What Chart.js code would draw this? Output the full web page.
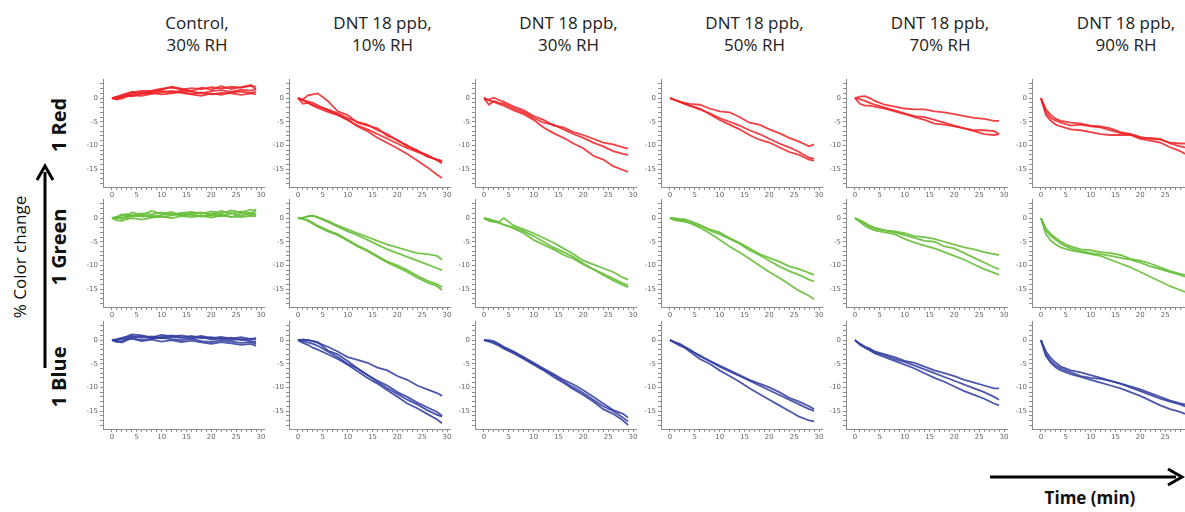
<!DOCTYPE html>
<html>
<head>
<meta charset="utf-8">
<script src="https://cdn.jsdelivr.net/npm/chart.js@4"></script>
<style>
    html, body { margin: 0; padding: 0; background: #fff; }
    #stage { position: relative; width: 1185px; height: 512px; overflow: hidden; font-family: "Open Sans", "Noto Sans", sans-serif; }
    .panel { position: absolute; }
    .title { position: absolute; width: 180px; text-align: center; font-size: 17px; line-height: 22px; color: #222; }
    .rowlabel { position: absolute; font-weight: bold; font-size: 20px; color: #111; transform: translate(-50%, -50%) rotate(-90deg); white-space: nowrap; }
    .ylabel { position: absolute; font-size: 17px; color: #111; transform: translate(-50%, -50%) rotate(-90deg); white-space: nowrap; }
    .xlabel { position: absolute; font-weight: bold; font-size: 17px; color: #111; transform: translate(-50%, -50%); white-space: nowrap; }
    svg { position: absolute; left: 0; top: 0; }
</style>
</head>
<body>
<div id="stage">
    <svg width="1185" height="512">
        <line x1="45" y1="368" x2="45" y2="172" stroke="#000" stroke-width="3"/>
        <polyline points="37,180 45,166 53,180" fill="none" stroke="#000" stroke-width="3"/>
        <line x1="990" y1="477" x2="1176" y2="477" stroke="#000" stroke-width="3"/>
        <polyline points="1168,469 1182,477 1168,485" fill="none" stroke="#000" stroke-width="3"/>
    </svg>
</div>

<script>
// sample times (min)
const TIMES = [0, 1, 2, 3, 4, 6, 8, 10, 12, 14, 16, 18, 20, 22, 24, 26, 28, 29];

const COLUMN_TITLES = [
    ['Control,', '30% RH'],
    ['DNT 18 ppb,', '10% RH'],
    ['DNT 18 ppb,', '30% RH'],
    ['DNT 18 ppb,', '50% RH'],
    ['DNT 18 ppb,', '70% RH'],
    ['DNT 18 ppb,', '90% RH']
];
const ROW_LABELS = ['1 Red', '1 Green', '1 Blue'];
const Y_AXIS_TITLE = '% Color change';
const X_AXIS_TITLE = 'Time (min)';

const Y_TICK_LABELS = [0, -5, -10, -15];
const X_TICK_LABELS = [0, 5, 10, 15, 20, 25, 30];

// 1 Red
const RED_CONTROL = [
    [0, 0.2, 0.5, 0.8, 1.2, 1.5, 1.6, 2.0, 2.2, 1.8, 2.1, 1.9, 2.3, 2.0, 2.4, 2.2, 2.6, 2.4],
    [0, -0.3, 0.3, 0.5, 0.9, 1.0, 1.3, 1.5, 1.2, 1.6, 1.4, 1.0, 1.5, 1.7, 1.3, 1.8, 1.6, 1.9],
    [0, 0.1, 0.2, 0.6, 0.4, 0.9, 1.1, 0.8, 1.0, 1.3, 0.9, 1.2, 0.8, 1.1, 1.0, 0.7, 1.0, 0.8],
    [0, -0.2, -0.1, 0.3, 0.6, 0.5, 0.9, 1.2, 1.5, 1.1, 0.8, 0.5, 1.0, 0.7, 1.2, 1.4, 1.1, 1.3],
    [0, 0.3, 0.7, 1.0, 1.3, 1.1, 1.4, 1.8, 2.4, 2.0, 1.5, 2.2, 1.8, 2.5, 1.9, 2.3, 2.8, 1.7]
];
const RED_RH10 = [
    [0, -0.3, 0.6, 0.8, 1.0, -0.6, -2.8, -3.6, -5.2, -5.8, -6.4, -8.0, -8.8, -10.2, -11.0, -12.4, -13.0, -13.4],
    [0, -1.2, -1.0, -1.4, -1.8, -2.4, -3.2, -4.2, -5.0, -5.6, -6.8, -7.6, -9.0, -10.0, -11.2, -12.0, -13.2, -13.8],
    [0, -0.4, -0.7, -1.0, -1.5, -2.6, -3.4, -4.6, -5.8, -6.6, -7.6, -8.6, -9.6, -10.6, -11.4, -12.2, -13.0, -13.2],
    [0, -0.5, -1.0, -1.6, -2.1, -2.9, -3.6, -4.6, -6.0, -7.0, -8.4, -9.5, -10.6, -11.8, -13.2, -14.6, -16.2, -16.9]
];
const RED_RH30 = [
    [0, -0.3, 0.1, -0.4, -0.8, -1.8, -2.6, -3.8, -4.6, -5.8, -6.2, -7.2, -7.8, -8.6, -9.4, -9.8, -10.4, -10.7],
    [0, -1.4, -0.6, -1.0, -1.2, -2.2, -3.0, -4.2, -5.2, -5.6, -6.6, -7.6, -8.4, -9.4, -10.2, -11.2, -11.8, -12.0],
    [0, -0.5, -0.8, -1.2, -1.6, -2.6, -3.4, -4.6, -6.2, -7.4, -8.4, -9.6, -10.6, -12.2, -13.0, -14.4, -15.2, -15.6]
];
const RED_RH50 = [
    [0, -0.4, -0.8, -1.0, -1.2, -1.4, -2.2, -2.8, -3.0, -4.0, -5.2, -5.6, -6.6, -7.4, -8.4, -9.2, -10.2, -9.8],
    [0, -0.4, -0.8, -1.2, -1.6, -2.4, -3.2, -4.2, -5.0, -5.8, -6.8, -7.6, -8.6, -9.6, -10.4, -11.4, -12.6, -12.8],
    [0, -0.4, -0.8, -1.2, -1.6, -2.2, -3.4, -4.6, -5.6, -6.6, -7.8, -8.8, -9.4, -10.4, -11.4, -12.0, -13.0, -13.2]
];
const RED_RH70 = [
    [0, 0.3, 0.4, 0, -0.6, -1.4, -1.8, -2.2, -2.4, -2.4, -2.8, -3.0, -3.4, -3.8, -4.2, -4.4, -4.8, -4.8],
    [0, -1.2, -1.6, -1.6, -1.8, -2.2, -2.8, -3.4, -4.0, -4.6, -5.4, -5.6, -6.0, -6.4, -6.8, -6.8, -7.0, -7.6],
    [0, -0.2, -0.6, -1.0, -1.4, -2.0, -2.6, -3.2, -3.8, -4.0, -4.6, -5.2, -5.8, -6.4, -7.0, -7.6, -7.8, -7.6]
];
const RED_RH90 = [
    [0, -2.4, -3.6, -4.4, -4.8, -5.2, -5.4, -5.8, -6.0, -6.4, -7.2, -7.6, -8.2, -8.6, -8.8, -9.4, -9.6, -9.6],
    [0, -3.0, -4.2, -4.8, -5.2, -5.8, -5.6, -6.0, -6.2, -6.8, -7.4, -7.6, -8.4, -8.4, -8.6, -9.6, -10.2, -10.4],
    [0, -3.6, -4.8, -5.6, -6.0, -6.6, -6.8, -7.2, -7.6, -7.8, -7.8, -7.8, -8.6, -9.0, -9.4, -10.4, -11.2, -11.8]
];

// 1 Green
const GREEN_CONTROL = [
    [0, 0.2, 0.6, 0.9, 0.5, 1.0, 0.8, 1.2, 0.7, 1.1, 1.3, 0.9, 1.4, 1.0, 1.6, 1.2, 1.8, 1.5],
    [0, -0.5, -0.6, -0.2, 0.0, -0.3, 0.1, 0.3, 0.0, 0.4, 0.2, 0.5, 0.1, 0.6, 0.3, 0.2, 0.5, 0.4],
    [0, 0.3, 0.8, 0.4, 1.2, 0.7, 1.5, 0.9, 1.3, 0.6, 1.0, 1.2, 0.8, 1.5, 0.9, 1.4, 1.0, 0.6],
    [0, 0.1, -0.2, 0.5, 0.3, 0.6, 0.2, 0.7, 0.9, 0.5, 0.8, 0.4, 0.9, 0.7, 0.2, 1.0, 0.6, 1.9],
    [0, -0.1, 0.2, 0.0, 0.6, 0.3, 0.5, 0.2, 0.6, 1.0, 0.7, 0.3, 0.6, 0.4, 1.1, 0.5, 1.2, 0.9]
];
const GREEN_RH10 = [
    [0, 0, 0.4, 0.5, 0.2, -0.6, -1.6, -2.4, -3.2, -4.0, -4.8, -5.6, -6.2, -6.8, -7.4, -7.6, -8.0, -8.8],
    [0, 0.1, 0.3, 0.5, 0.1, -0.8, -1.8, -2.8, -3.6, -4.6, -5.6, -6.6, -7.4, -8.2, -9.0, -9.8, -10.6, -11.0],
    [0, -0.2, -0.4, -1.0, -1.6, -2.6, -3.4, -4.6, -5.8, -6.8, -8.0, -9.2, -10.0, -11.0, -12.2, -13.2, -14.0, -14.6],
    [0, -0.1, -0.6, -1.2, -1.8, -2.8, -3.6, -4.8, -6.0, -7.0, -8.2, -9.4, -10.4, -11.4, -12.6, -13.6, -14.4, -15.2]
];
const GREEN_RH30 = [
    [0, -0.2, -0.6, -0.8, 0.0, -1.6, -2.4, -3.2, -4.2, -5.2, -6.4, -7.6, -9.0, -9.8, -10.6, -11.4, -12.6, -13.0],
    [0, -0.6, -0.8, -1.0, -1.4, -2.0, -2.8, -3.8, -5.0, -6.2, -7.2, -8.2, -9.6, -10.8, -11.8, -12.8, -13.8, -14.2],
    [0, -0.3, -0.6, -0.9, -1.4, -2.2, -3.2, -4.6, -5.6, -6.6, -7.8, -8.6, -9.8, -10.8, -12.0, -13.2, -14.2, -14.6]
];
const GREEN_RH50 = [
    [0, 0, -0.2, -0.2, -0.6, -1.4, -2.4, -3.0, -4.2, -5.2, -6.4, -7.6, -8.4, -9.2, -10.2, -10.8, -11.6, -12.0],
    [0, -0.5, -0.6, -0.8, -1.0, -1.6, -2.6, -3.4, -4.4, -5.4, -6.8, -7.8, -9.0, -10.2, -11.2, -12.0, -13.0, -13.4],
    [0, -0.2, -0.4, -0.6, -1.0, -2.0, -3.2, -4.6, -6.0, -7.2, -8.6, -10.0, -11.4, -12.6, -14.0, -15.4, -16.4, -17.2]
];
const GREEN_RH70 = [
    [0, -0.4, -1.0, -1.6, -2.0, -2.6, -2.8, -3.2, -3.8, -4.0, -4.4, -5.0, -5.6, -6.2, -6.6, -7.2, -7.6, -7.8],
    [0, -0.6, -1.2, -1.8, -2.2, -2.6, -3.0, -3.6, -4.2, -4.8, -5.0, -6.0, -6.4, -7.4, -8.4, -9.4, -10.4, -10.8],
    [0, -0.8, -1.6, -2.2, -2.6, -3.0, -3.4, -4.4, -5.2, -5.8, -6.4, -7.2, -8.0, -8.8, -9.8, -10.8, -11.6, -12.0]
];
const GREEN_RH90 = [
    [0, -2.2, -3.4, -4.2, -5.0, -6.0, -6.6, -6.8, -7.2, -7.4, -7.8, -8.6, -9.0, -9.6, -10.4, -11.2, -11.8, -12.0],
    [0, -2.6, -3.8, -4.6, -5.4, -6.4, -7.0, -7.4, -7.6, -8.0, -8.4, -8.8, -9.4, -10.2, -10.8, -11.4, -12.0, -12.4],
    [0, -3.4, -4.8, -5.6, -6.2, -6.8, -7.2, -7.6, -8.0, -8.8, -9.6, -10.4, -11.4, -12.4, -13.4, -14.4, -15.2, -15.6]
];

// 1 Blue
const BLUE_CONTROL = [
    [0, 0.2, 0.5, 0.8, 1.2, 1.0, 0.6, 1.1, 0.8, 1.0, 0.6, 0.9, 0.4, 0.7, 0.3, 0.6, 0.2, 0.5],
    [0, -0.4, -0.2, 0.2, 0.4, 0.0, 0.3, 0.5, 0.2, 0.0, 0.3, -0.2, -0.4, 0.0, -0.3, -0.6, -0.4, -0.8],
    [0, 0.1, 0.3, 0.6, 0.9, 0.5, 0.8, 0.4, 0.7, 0.5, 0.9, 0.4, 0.6, 0.2, 0.5, 0.0, 0.3, 0.1],
    [0, -0.2, -0.5, 0.0, 0.3, -0.2, 0.1, -0.3, 0.0, -0.4, -0.1, -0.5, -0.8, -0.4, -0.7, -1.0, -0.8, -1.2],
    [0, 0.0, 0.2, 0.4, 0.6, 0.9, 0.4, 0.7, 1.0, 0.6, 0.3, 0.7, 0.1, 0.4, 0.0, 0.2, -0.2, -0.4]
];
const BLUE_RH10 = [
    [0, 0.1, 0.0, -0.2, -0.6, -1.4, -2.4, -3.6, -4.2, -4.8, -5.8, -6.4, -7.6, -8.4, -9.6, -10.4, -11.2, -11.8],
    [0, 0.1, 0, -0.2, -0.4, -2.2, -3.0, -4.4, -6.0, -7.4, -8.6, -9.6, -11.0, -12.0, -13.2, -14.2, -15.2, -16.0],
    [0, -0.2, -0.5, -0.8, -1.2, -2.4, -3.6, -5.0, -6.0, -7.4, -8.8, -10.2, -11.4, -12.6, -13.6, -14.8, -15.8, -16.2],
    [0, -0.6, -1.0, -1.6, -2.0, -3.0, -4.0, -5.2, -6.6, -8.0, -9.2, -10.6, -12.0, -13.4, -14.4, -15.6, -16.8, -17.6]
];
const BLUE_RH30 = [
    [0, 0, -0.2, -0.8, -1.4, -2.4, -3.6, -4.8, -6.0, -7.2, -8.4, -9.4, -10.6, -12.0, -13.4, -14.8, -15.6, -16.4],
    [0, -0.2, -0.5, -1.0, -1.6, -2.6, -3.8, -5.0, -6.2, -7.4, -8.8, -10.0, -11.2, -12.6, -14.0, -15.0, -16.4, -17.2],
    [0, -0.3, -0.7, -1.2, -1.8, -2.8, -4.0, -5.2, -6.4, -7.8, -9.0, -10.4, -11.6, -13.0, -14.6, -15.6, -17.0, -18.0]
];
const BLUE_RH50 = [
    [0, -0.4, -0.8, -1.4, -2.0, -3.4, -4.4, -5.4, -6.4, -7.4, -8.4, -9.2, -10.0, -11.0, -12.2, -13.0, -14.0, -14.6],
    [0, -0.5, -1.0, -1.6, -2.2, -3.2, -4.4, -5.6, -6.6, -7.6, -8.6, -9.6, -10.6, -11.6, -12.6, -13.6, -14.6, -15.0],
    [0, -0.6, -1.2, -1.6, -2.4, -4.0, -5.0, -6.4, -7.6, -8.8, -10.2, -11.4, -12.6, -13.8, -15.0, -16.2, -17.0, -17.2]
];
const BLUE_RH70 = [
    [0, -0.8, -1.4, -1.8, -2.4, -3.0, -3.6, -4.4, -4.8, -5.6, -6.4, -7.0, -7.6, -8.4, -9.0, -9.6, -10.2, -10.2],
    [0, -0.8, -1.4, -2.0, -2.6, -3.2, -4.0, -4.6, -5.4, -6.2, -7.0, -7.8, -8.6, -9.4, -10.2, -11.0, -12.0, -12.6],
    [0, -1.0, -1.6, -2.2, -2.8, -3.6, -4.4, -5.2, -6.0, -7.0, -8.0, -8.8, -9.8, -10.8, -11.6, -12.4, -13.4, -13.8]
];
const BLUE_RH90 = [
    [0, -2.4, -3.8, -4.8, -5.6, -6.4, -6.8, -7.4, -8.0, -8.6, -9.2, -9.8, -10.4, -11.2, -12.0, -12.8, -13.4, -13.6],
    [0, -3.0, -4.4, -5.4, -6.0, -6.8, -7.6, -8.0, -8.2, -8.6, -9.2, -10.0, -10.8, -11.6, -12.4, -13.0, -13.6, -14.0],
    [0, -3.4, -4.8, -5.8, -6.4, -7.2, -7.8, -8.4, -9.0, -9.6, -10.2, -11.0, -11.8, -12.8, -13.8, -14.6, -15.2, -15.6]
];

const PANELS = [
    [RED_CONTROL, RED_RH10, RED_RH30, RED_RH50, RED_RH70, RED_RH90],
    [GREEN_CONTROL, GREEN_RH10, GREEN_RH30, GREEN_RH50, GREEN_RH70, GREEN_RH90],
    [BLUE_CONTROL, BLUE_RH10, BLUE_RH30, BLUE_RH50, BLUE_RH70, BLUE_RH90]
];
const ROW_COLORS = ['rgba(236, 32, 36, 0.85)', 'rgba(104, 190, 58, 0.9)', 'rgba(52, 64, 160, 0.88)'];

// layout (px)
const AXIS_LEFT = [103, 288.5, 474.5, 660.5, 846, 1032];
const AXIS_TOP = [79, 199, 321];
const ROW_LABEL_Y = [125, 247, 377];
const PLOT_W = 161, PLOT_H = 108;
const PAD_L = 30, PAD_T = 6, PAD_R = 6, PAD_B = 22;
const AXIS_COLOR = '#8c8c8c';

const stage = document.getElementById('stage');

function addText(cls, text, x, y) {
    const el = document.createElement('div');
    el.className = cls;
    el.textContent = text;
    el.style.left = x + 'px';
    el.style.top = y + 'px';
    stage.appendChild(el);
    return el;
}

function integerTicks(min, max) {
    const ticks = [];
    for (let v = Math.ceil(min); v <= Math.floor(max); v++) ticks.push({ value: v });
    return ticks;
}

function createPanel(row, col) {
    const wrap = document.createElement('div');
    wrap.className = 'panel';
    wrap.style.left = (AXIS_LEFT[col] - PAD_L) + 'px';
    wrap.style.top = (AXIS_TOP[row] - PAD_T) + 'px';
    const canvas = document.createElement('canvas');
    canvas.width = PAD_L + PLOT_W + PAD_R;
    canvas.height = PAD_T + PLOT_H + PAD_B;
    wrap.appendChild(canvas);
    stage.appendChild(wrap);

    const series = PANELS[row][col];
    new Chart(canvas.getContext('2d'), {
        type: 'line',
        data: {
            datasets: series.map(values => ({
                data: values.map((v, i) => ({ x: TIMES[i], y: v })),
                borderColor: ROW_COLORS[row],
                borderWidth: 1.8,
                pointRadius: 0,
                tension: 0,
                fill: false
            }))
        },
        options: {
            responsive: false,
            animation: false,
            layout: { padding: { top: PAD_T, right: PAD_R, left: 0, bottom: 0 } },
            plugins: { legend: { display: false }, tooltip: { enabled: false } },
            scales: {
                x: {
                    type: 'linear',
                    min: -1.8,
                    max: 30.6,
                    afterFit: scale => { scale.height = PAD_B; },
                    afterBuildTicks: scale => { scale.ticks = integerTicks(0, 30); },
                    grid: { drawOnChartArea: false, color: AXIS_COLOR, tickLength: 3 },
                    border: { color: AXIS_COLOR },
                    ticks: {
                        autoSkip: false,
                        maxRotation: 0,
                        padding: 1,
                        color: '#666',
                        font: { family: 'DejaVu Sans', size: 7 },
                        callback: value => X_TICK_LABELS.includes(value) ? String(value) : ''
                    }
                },
                y: {
                    min: -18.8,
                    max: 4,
                    afterFit: scale => { scale.width = PAD_L; },
                    afterBuildTicks: scale => { scale.ticks = integerTicks(-18, 3); },
                    grid: { drawOnChartArea: false, color: AXIS_COLOR, tickLength: 3 },
                    border: { color: AXIS_COLOR },
                    ticks: {
                        autoSkip: false,
                        padding: 2,
                        color: '#666',
                        font: { family: 'DejaVu Sans', size: 7 },
                        callback: value => Y_TICK_LABELS.includes(value) ? String(value) : ''
                    }
                }
            }
        }
    });
}

document.addEventListener('DOMContentLoaded', () => {
    COLUMN_TITLES.forEach((lines, col) => {
        const el = addText('title', '', AXIS_LEFT[col] + 94 - 90, 12);
        el.innerHTML = lines.join('<br>');
    });
    ROW_LABELS.forEach((label, row) => {
        addText('rowlabel', label, 58, ROW_LABEL_Y[row]);
    });
    addText('ylabel', Y_AXIS_TITLE, 19, 257);
    addText('xlabel', X_AXIS_TITLE, 1090, 497);

    for (let row = 0; row < PANELS.length; row++) {
        for (let col = 0; col < PANELS[row].length; col++) {
            createPanel(row, col);
        }
    }
});
</script>
</body>
</html>
